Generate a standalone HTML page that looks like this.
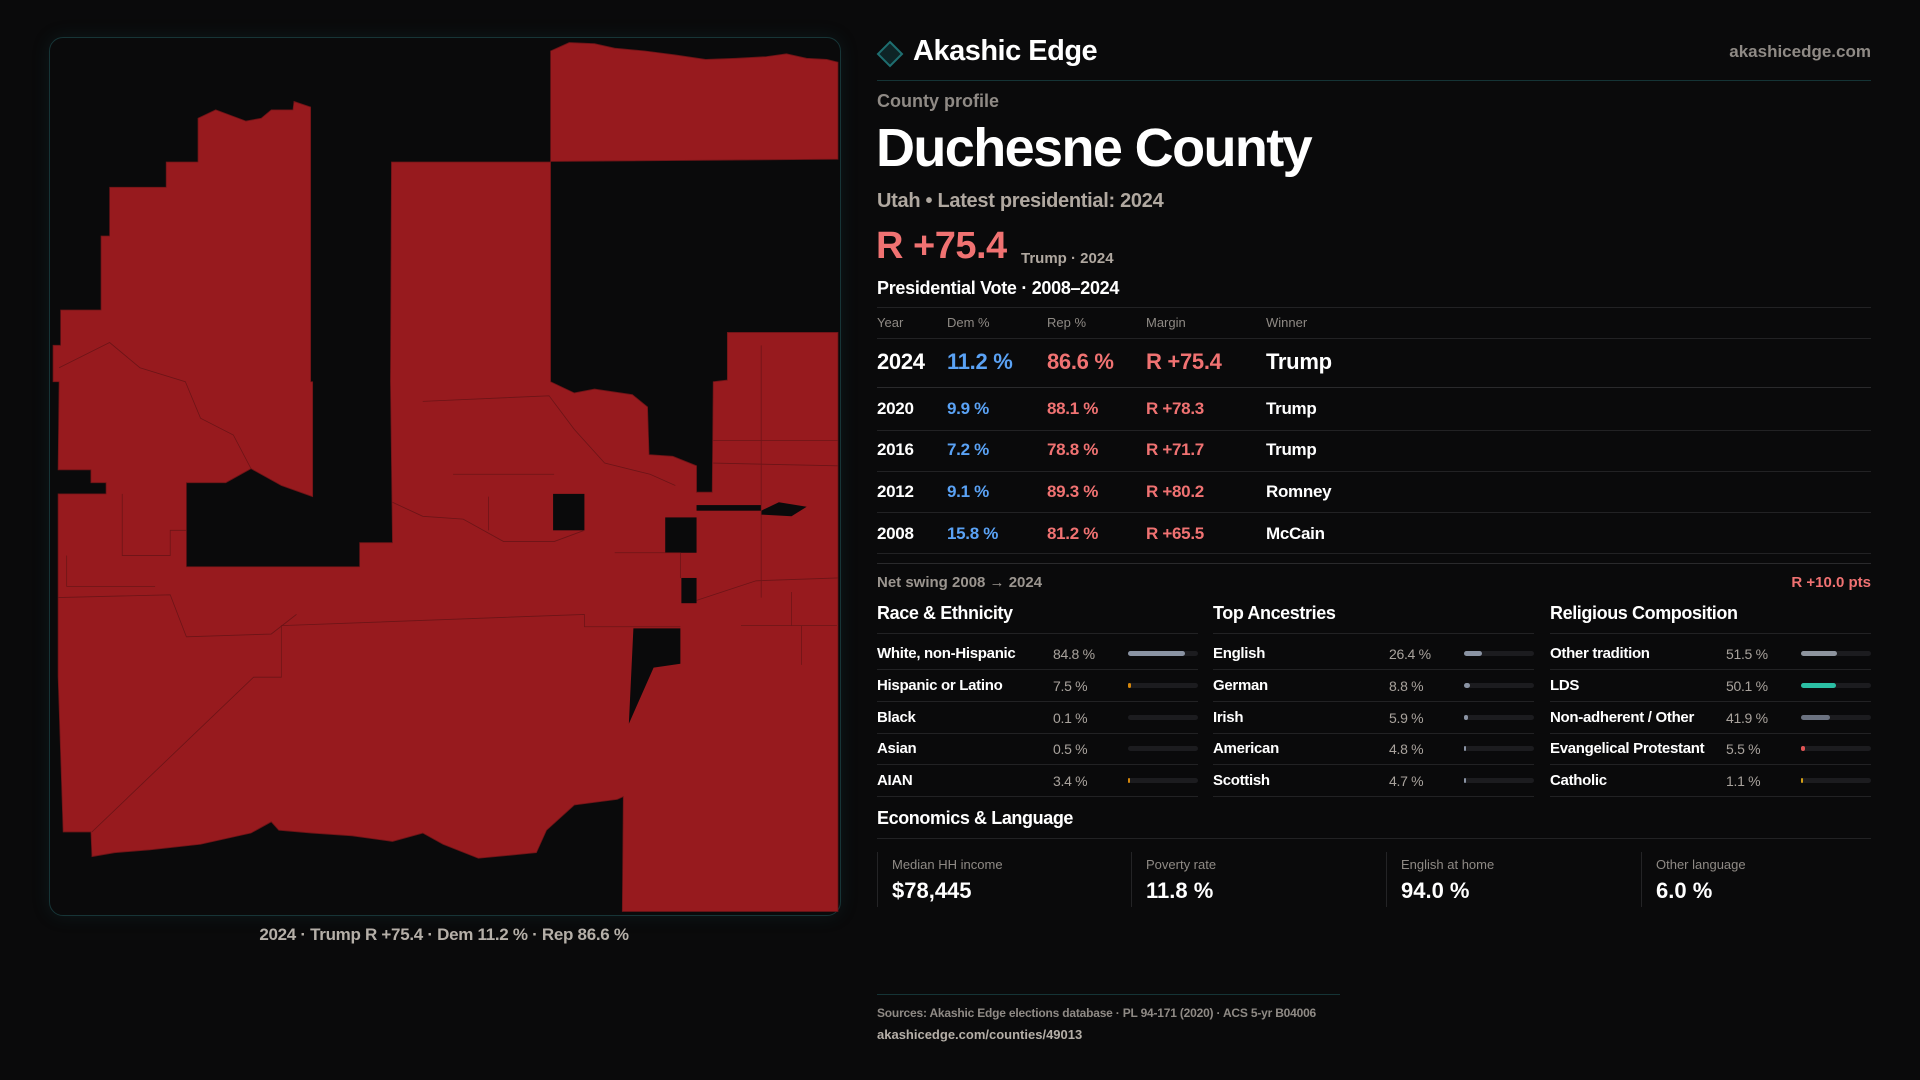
<!DOCTYPE html>
<html><head><meta charset="utf-8">
<style>
*{margin:0;padding:0;box-sizing:border-box}
body{width:1920px;height:1080px;background:#0a0a0b;font-family:"Liberation Sans",sans-serif;color:#fff;position:relative;overflow:hidden}
.a{position:absolute;white-space:nowrap}
.g{color:#9b958f}
.hl{position:absolute;height:1px;background:#222224}
.r{color:#f07272}.b{color:#5aa2f5}
.tr{font-size:17px;font-weight:bold;letter-spacing:-0.3px}
.th{font-size:13px;color:#8f8a85}
.lab{font-size:15px;font-weight:bold;letter-spacing:-0.3px}
.val{font-size:14px;color:#a9a39d;letter-spacing:-0.3px}
.trk{position:absolute;height:5px;width:70px;background:#1c1c1f;border-radius:3px}
.fill{position:absolute;left:0;top:0;height:5px;border-radius:3px}
.sec{font-size:18px;font-weight:bold;letter-spacing:-0.4px}
.box{position:absolute;top:852px;height:55px;border-left:1px solid #242426}
.box .l{position:absolute;left:14px;top:5px;font-size:13px;color:#8f8a85;white-space:nowrap}
.box .v{position:absolute;left:14px;top:26px;font-size:22px;font-weight:bold;white-space:nowrap}
</style></head><body>

<div class="a" style="left:49px;top:37px;width:792px;height:879px;border:1px solid #173537;border-radius:14px;box-shadow:0 0 18px rgba(30,90,95,0.18)"></div>
<svg class="a" style="left:49px;top:37px" width="792" height="879" viewBox="0 0 1568 1568" preserveAspectRatio="none">
<g fill="#971a1e" stroke="#6c1417" stroke-width="1.5">
<path d="M993,25 L1030,10 L1080,12 L1120,20 L1180,25 L1240,32 L1300,40 L1360,38 L1420,35 L1460,30 L1500,38 L1540,40 L1562,45 L1562,218 L993,222Z"/>
<path d="M295,145 L330,130 L390,150 L420,145 L440,130 L483,130 L485,115 L518,125 L518,615 L522,615 L522,820 L460,800 L400,770 L350,795 L272,795 L272,945 L615,945 L615,902 L680,902 L676,615 L678,223 L993,223 L993,615 L1040,635 L1080,628 L1155,638 L1185,660 L1188,745 L1235,748 L1282,765 L1282,812 L1313,812 L1315,615 L1343,612 L1343,527 L1562,527 L1562,1560 L1135,1560 L1137,1355 L1125,1360 L1040,1370 L985,1415 L965,1455 L850,1465 L780,1440 L740,1420 L680,1435 L600,1425 L520,1420 L455,1415 L440,1400 L400,1420 L300,1440 L200,1450 L130,1455 L85,1462 L83,1418 L28,1418 L18,1140 L18,815 L113,815 L113,795 L83,795 L83,772 L18,772 L20,615 L8,615 L8,550 L23,550 L23,487 L103,487 L103,355 L120,355 L120,268 L232,268 L232,223 L295,223Z"/>
</g>
<g fill="#0a0a0b">
<rect x="998" y="815" width="62" height="65"/>
<rect x="1220" y="857" width="62" height="63"/>
<rect x="1252" y="965" width="30" height="45"/>
<rect x="1282" y="835" width="128" height="10"/>
<path d="M1157,1055 L1250,1055 L1250,1118 L1197,1125 L1148,1225Z"/>
<path d="M1410,845 L1445,830 L1500,838 L1470,855 L1410,852Z"/>
</g>
<g fill="none" stroke="#6c1417" stroke-width="1.5">
<path d="M85,1418 L405,1142 L460,1142 L460,1050 L1060,1030 L1060,1052 L1250,1052"/>
<path d="M18,1000 L240,995 L272,1070 L440,1065 L490,1030"/>
<path d="M680,830 L740,855 L820,860 L900,900 L1000,900 L1060,880"/>
<path d="M1282,1005 L1400,970 L1562,965"/>
<path d="M1315,760 L1562,765 M1315,720 L1562,720 M1410,550 L1410,1000"/>
<path d="M20,590 L120,545 L180,590 L270,615 L300,680 L365,710 L400,770"/>
<path d="M740,650 L990,640 L1040,700 L1100,760 L1190,780 L1240,800"/>
<path d="M800,780 L1000,780 M870,820 L870,880 M1120,920 L1250,920 L1250,965"/>
<path d="M145,815 L145,925 L240,925 L240,880 L272,880 M35,925 L35,980 L210,980"/>
<path d="M1370,1050 L1560,1050 M1490,1120 L1490,1050 M1470,990 L1470,1050"/>
</g>
</svg>
<div class="a" style="left:0;width:888px;top:925px;text-align:center;font-size:17px;font-weight:bold;color:#b5afa8;letter-spacing:-0.3px">2024 · Trump R +75.4 · Dem 11.2 % · Rep 86.6 %</div>

<!-- header -->
<svg class="a" style="left:876px;top:40px" width="28" height="28" viewBox="0 0 28 28"><path d="M14,2 L26,14 L14,26 L2,14Z" fill="#0e2426" stroke="#1e6e70" stroke-width="2"/></svg>
<div class="a" style="left:913px;top:35px;font-size:29px;font-weight:bold;letter-spacing:-0.5px">Akashic Edge</div>
<div class="a" style="right:49px;top:42px;font-size:17px;font-weight:bold;color:#8f8a85">akashicedge.com</div>
<div class="hl" style="left:877px;width:994px;top:80px;background:#153436"></div>
<div class="a g" style="left:877px;top:91px;font-size:18px;font-weight:bold;color:#8f8a85">County profile</div>
<div class="a" style="left:876px;top:117px;font-size:54px;font-weight:bold;letter-spacing:-1.6px">Duchesne County</div>
<div class="a" style="left:877px;top:190px;font-size:20px;font-weight:bold;color:#b0a8a0;letter-spacing:-0.3px">Utah • Latest presidential: 2024</div>
<div class="a r" style="left:876px;top:225px;font-size:38px;font-weight:bold;letter-spacing:-0.5px">R +75.4</div>
<div class="a" style="left:1021px;top:250px;font-size:15px;font-weight:bold;color:#b0a8a0">Trump · 2024</div>
<div class="a" style="left:877px;top:278px;font-size:18px;font-weight:bold;letter-spacing:-0.3px">Presidential Vote · 2008–2024</div>
<div class="hl" style="left:877px;width:994px;top:307px"></div>
<div class="a th" style="left:877px;top:315px">Year</div>
<div class="a th" style="left:947px;top:315px">Dem %</div>
<div class="a th" style="left:1047px;top:315px">Rep %</div>
<div class="a th" style="left:1146px;top:315px">Margin</div>
<div class="a th" style="left:1266px;top:315px">Winner</div>
<div class="hl" style="left:877px;width:994px;top:338px"></div>

<div class="a tr" style="left:877px;top:349px;font-size:22px">2024</div>
<div class="a tr b" style="left:947px;top:349px;font-size:22px">11.2 %</div>
<div class="a tr r" style="left:1047px;top:349px;font-size:22px">86.6 %</div>
<div class="a tr r" style="left:1146px;top:349px;font-size:22px">R +75.4</div>
<div class="a tr" style="left:1266px;top:349px;font-size:22px">Trump</div>
<div class="hl" style="left:877px;width:994px;top:387px;background:#2a2a2c"></div>

<div class="a tr" style="left:877px;top:399px">2020</div><div class="a tr b" style="left:947px;top:399px">9.9 %</div><div class="a tr r" style="left:1047px;top:399px">88.1 %</div><div class="a tr r" style="left:1146px;top:399px">R +78.3</div><div class="a tr" style="left:1266px;top:399px">Trump</div>
<div class="hl" style="left:877px;width:994px;top:430px"></div>
<div class="a tr" style="left:877px;top:440px">2016</div><div class="a tr b" style="left:947px;top:440px">7.2 %</div><div class="a tr r" style="left:1047px;top:440px">78.8 %</div><div class="a tr r" style="left:1146px;top:440px">R +71.7</div><div class="a tr" style="left:1266px;top:440px">Trump</div>
<div class="hl" style="left:877px;width:994px;top:471px"></div>
<div class="a tr" style="left:877px;top:482px">2012</div><div class="a tr b" style="left:947px;top:482px">9.1 %</div><div class="a tr r" style="left:1047px;top:482px">89.3 %</div><div class="a tr r" style="left:1146px;top:482px">R +80.2</div><div class="a tr" style="left:1266px;top:482px">Romney</div>
<div class="hl" style="left:877px;width:994px;top:512px"></div>
<div class="a tr" style="left:877px;top:524px">2008</div><div class="a tr b" style="left:947px;top:524px">15.8 %</div><div class="a tr r" style="left:1047px;top:524px">81.2 %</div><div class="a tr r" style="left:1146px;top:524px">R +65.5</div><div class="a tr" style="left:1266px;top:524px">McCain</div>
<div class="hl" style="left:877px;width:994px;top:553px"></div>
<div class="hl" style="left:877px;width:994px;top:563px;background:#2a2a2c"></div>
<div class="a" style="left:877px;top:574px;font-size:15px;font-weight:bold;color:#9b958f">Net swing 2008 → 2024</div>
<div class="a r" style="right:49px;top:574px;font-size:15px;font-weight:bold">R +10.0 pts</div>

<div class="a sec" style="left:877px;top:603px">Race &amp; Ethnicity</div>
<div class="a sec" style="left:1213px;top:603px">Top Ancestries</div>
<div class="a sec" style="left:1550px;top:603px">Religious Composition</div>

<div id="cols"></div>
<script>
var cols=[
 {x:877,rows:[["White, non-Hispanic","84.8 %",82,"#8a93a3"],["Hispanic or Latino","7.5 %",4,"#d4860b"],["Black","0.1 %",0,"#888"],["Asian","0.5 %",0,"#888"],["AIAN","3.4 %",2,"#d4860b"]]},
 {x:1213,rows:[["English","26.4 %",25,"#8a93a3"],["German","8.8 %",8,"#8a93a3"],["Irish","5.9 %",5,"#8a93a3"],["American","4.8 %",3,"#8a93a3"],["Scottish","4.7 %",3,"#8a93a3"]]},
 {x:1550,rows:[["Other tradition","51.5 %",51,"#8e949e"],["LDS","50.1 %",50,"#2bbfa4"],["Non-adherent / Other","41.9 %",41,"#6b7280"],["Evangelical Protestant","5.5 %",5,"#e05555"],["Catholic","1.1 %",2,"#d4a017"]]}];
var h="";
cols.forEach(function(c){
 h+='<div class="hl" style="left:'+c.x+'px;width:321px;top:633px"></div>';
 c.rows.forEach(function(r,i){
  var y=645+i*31.8;
  h+='<div class="a lab" style="left:'+c.x+'px;top:'+y+'px">'+r[0]+'</div>';
  h+='<div class="a val" style="left:'+(c.x+176)+'px;top:'+(y+1)+'px">'+r[1]+'</div>';
  h+='<div class="trk" style="left:'+(c.x+251)+'px;top:'+(y+6)+'px">'+(r[2]>0?'<div class="fill" style="width:'+Math.max(2,r[2]*0.7)+'px;background:'+r[3]+'"></div>':'')+'</div>';
  h+='<div class="hl" style="left:'+c.x+'px;width:321px;top:'+(669+i*31.8)+'px"></div>';
 });
});
document.getElementById("cols").innerHTML=h;
</script>

<div class="a sec" style="left:877px;top:808px">Economics &amp; Language</div>
<div class="hl" style="left:877px;width:994px;top:838px"></div>
<div class="box" style="left:877px"><div class="l">Median HH income</div><div class="v">$78,445</div></div>
<div class="box" style="left:1131px"><div class="l">Poverty rate</div><div class="v">11.8 %</div></div>
<div class="box" style="left:1386px"><div class="l">English at home</div><div class="v">94.0 %</div></div>
<div class="box" style="left:1641px"><div class="l">Other language</div><div class="v">6.0 %</div></div>

<div class="hl" style="left:877px;width:463px;top:994px;background:#153436"></div>
<div class="a" style="left:877px;top:1006px;font-size:12px;font-weight:bold;color:#8f8a85;letter-spacing:-0.2px">Sources: Akashic Edge elections database · PL 94-171 (2020) · ACS 5-yr B04006</div>
<div class="a" style="left:877px;top:1027px;font-size:13px;font-weight:bold;color:#b5afa8">akashicedge.com/counties/49013</div>
</body></html>
